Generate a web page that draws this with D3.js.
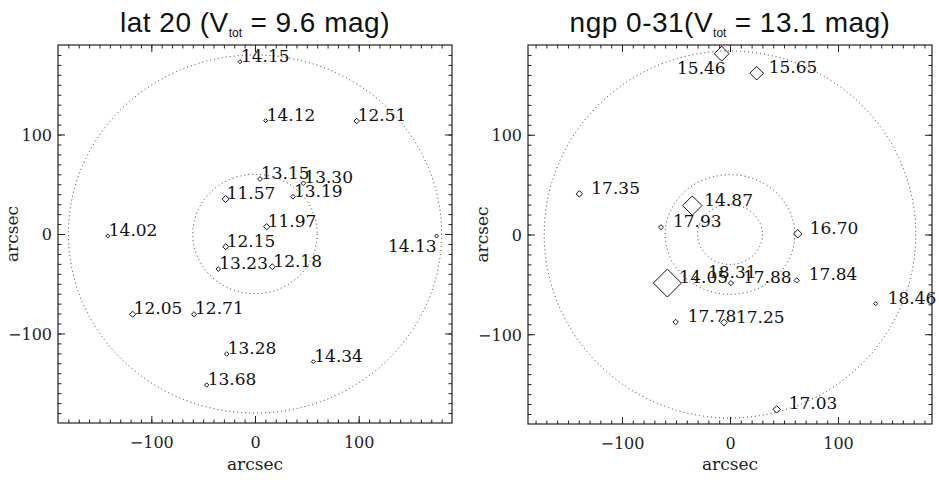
<!DOCTYPE html>
<html>
<head>
<meta charset="utf-8">
<script src="https://cdn.jsdelivr.net/npm/d3@7"></script>
<style>
  body { margin: 0; background: #fff; }
  svg { display: block; }
</style>
</head>
<body>
<svg id="chart" width="939" height="480"></svg>
<script>
// ---- lat 20 field: star magnitudes and offsets (arcsec) ----
const latMags = ["14.15", "14.12", "12.51", "13.15", "13.30", "13.19", "11.57", "11.97", "14.02",
                 "14.13", "12.15", "13.23", "12.18", "12.05", "12.71", "13.28", "14.34", "13.68"];
const latX = [-14.5, 10.3, 98.1, 4.8, 46.6, 36.6, -28.3, 11.3, -142, 175.2, -28.3, -35.4, 16.7, -118, -58.8, -27.3, 56.2, -46.6];
const latY = [173.2, 113.9, 113.6, 55.3, 51, 37.5, 35.2, 7.3, -2, -2, -12.8, -35.2, -32.9, -80.7, -80.7, -120.6, -128.3, -151.8];
// ring radii (arcsec) along x and y
const latRingsX = [60, 180];
const latRingsY = [60, 180];
const latVtot = 9.6;

// ---- ngp 0-31 field ----
const ngpMags = ["15.46", "15.65", "17.35", "14.87", "17.93", "16.70", "14.05", "18.31", "17.88",
                 "17.84", "18.46", "17.78", "17.25", "17.03"];
const ngpX = [-7.7, 24.7, -139.5, -34.9, -63.9, 62.7, -58, -31.5, 0.9, 61.8, 134.9, -50.3, -5.6, 43.2];
const ngpY = [181.3, 161.7, 40.7, 29, 7.3, 0.7, -48.7, -44, -48.7, -46, -69.3, -87.7, -88.3, -175.3];
const ngpRingsX = [30, 60, 172];
const ngpRingsY = [30, 60, 184];
const ngpVtot = 13.1;

// shared axis ticks
const majorTicks = [-100, 0, 100];
const minorTicks = d3.range(-180, 181, 10);

const svg = d3.select("#chart");
const serif = "'DejaVu Serif', serif";

function fmt(d) { return d < 0 ? "\u2212" + Math.abs(d) : String(d); }

function diamond(w) {
  const r = w / 2;
  return `M0,${-r}L${r},0L0,${r}L${-r},0Z`;
}

function drawPanel(cfg) {
  const { left, right, top, bottom, xDom, yDom } = cfg;
  const x = d3.scaleLinear().domain(xDom).range([left, right]);
  const y = d3.scaleLinear().domain(yDom).range([bottom, top]);
  const g = svg.append("g");

  // title with V_tot subscript
  const t = g.append("text")
    .attr("x", (left + right) / 2).attr("y", 32)
    .attr("text-anchor", "middle")
    .attr("font-family", "'Liberation Sans', Arial, sans-serif")
    .attr("font-size", 28).attr("letter-spacing", 0.5).attr("fill", "#111");
  t.append("tspan").text(cfg.titleA);
  t.append("tspan").attr("font-size", 12).attr("letter-spacing", 0).attr("dy", 5).text("tot");
  t.append("tspan").attr("dy", -5).text(cfg.titleB);

  // dotted rings
  const cx = x(0), cy = y(0);
  const rings = cfg.ringsX.map((rx, i) => ({ rx, ry: cfg.ringsY[i] }));
  g.selectAll("ellipse.ring").data(rings).join("ellipse")
    .attr("class", "ring")
    .attr("cx", cx).attr("cy", cy)
    .attr("rx", r => x(r.rx) - cx).attr("ry", r => cy - y(r.ry))
    .attr("fill", "none").attr("stroke", "#333").attr("stroke-width", 1)
    .attr("stroke-dasharray", "1 3");

  // axes: major + minor ticks on all four sides, pointing inward
  const h = bottom - top, w = right - left;
  const axes = [
    [d3.axisBottom(x), `translate(0,${bottom})`, "b"],
    [d3.axisTop(x), `translate(0,${top})`, ""],
    [d3.axisLeft(y), `translate(${left},0)`, "l"],
    [d3.axisRight(y), `translate(${right},0)`, ""]
  ];
  axes.forEach(([ax, tr, side]) => {
    g.append("g").attr("transform", tr)
      .call(ax.tickValues(minorTicks).tickSize(-3.5).tickFormat(""))
      .call(s => s.select(".domain").remove())
      .selectAll("line").attr("stroke", "#222");
    const mg = g.append("g").attr("transform", tr)
      .call(ax.tickValues(majorTicks).tickSize(-7).tickPadding(0)
        .tickFormat(side ? fmt : ""));
    mg.select(".domain").remove();
    mg.selectAll("line").attr("stroke", "#222");
    const txt = mg.selectAll("text").attr("font-family", serif).attr("font-size", 16).attr("fill", "#222");
    if (side === "b") txt.attr("y", 25).attr("dy", 0);
    if (side === "l") txt.attr("x", -6).attr("dy", "0.36em").attr("text-anchor", "end");
  });

  // frame
  g.append("rect").attr("x", left).attr("y", top).attr("width", w).attr("height", h)
    .attr("fill", "none").attr("stroke", "#222").attr("stroke-width", 1.2);

  // axis titles
  g.append("text").attr("x", (left + right) / 2).attr("y", 470)
    .attr("text-anchor", "middle").attr("font-family", serif).attr("font-size", 17)
    .attr("fill", "#222").text("arcsec");
  g.append("text").attr("transform", `translate(${left - 40},${(top + bottom) / 2}) rotate(-90)`)
    .attr("text-anchor", "middle").attr("font-family", serif).attr("font-size", 17)
    .attr("fill", "#222").text("arcsec");

  // stars: diamond size follows each star's share of the total flux
  const stars = cfg.mags.map((m, i) => ({ m, x: cfg.xs[i], y: cfg.ys[i] }));
  const amp = m => Math.sqrt(Math.pow(10, -0.4 * (+m - cfg.vtot)));
  const size = d3.scaleLinear().domain([0, 1]).range(cfg.sizeRange);

  g.selectAll("path.star").data(stars).join("path")
    .attr("class", "star")
    .attr("transform", d => `translate(${x(d.x)},${y(d.y)})`)
    .attr("d", d => diamond(size(amp(d.m))))
    .attr("fill", "none").attr("stroke", "#111").attr("stroke-width", 1);

  g.selectAll("text.lab").data(stars).join("text")
    .attr("class", "lab")
    .attr("x", d => x(d.x) + (cfg.nudge[d.m] ? cfg.nudge[d.m].dx : cfg.labelDx))
    .attr("y", d => y(d.y) + (cfg.nudge[d.m] ? cfg.nudge[d.m].dy : 0))
    .attr("text-anchor", d => cfg.nudge[d.m] ? cfg.nudge[d.m].anchor : "start")
    .attr("font-family", serif).attr("font-size", 17).attr("fill", "#111")
    .text(d => d.m);
}

drawPanel({
  left: 58, right: 452, top: 45, bottom: 423,
  xDom: [-190, 190], yDom: [-190, 190],
  titleA: "lat 20 (V", titleB: " = 9.6 mag)",
  ringsX: latRingsX, ringsY: latRingsY,
  mags: latMags, xs: latX, ys: latY, vtot: latVtot,
  sizeRange: [2.7, 13.4], labelDx: 1,
  nudge: { "14.13": { dx: 0, dy: 16, anchor: "end" } }
});

drawPanel({
  left: 528, right: 932, top: 45, bottom: 424,
  xDom: [-187, 187], yDom: [-190, 190],
  titleA: "ngp 0-31(V", titleB: " = 13.1 mag)",
  ringsX: ngpRingsX, ringsY: ngpRingsY,
  mags: ngpMags, xs: ngpX, ys: ngpY, vtot: ngpVtot,
  sizeRange: [0.4, 43.2], labelDx: 12,
  nudge: { "15.46": { dx: 4, dy: 20, anchor: "end" } }
});
</script>
</body>
</html>
